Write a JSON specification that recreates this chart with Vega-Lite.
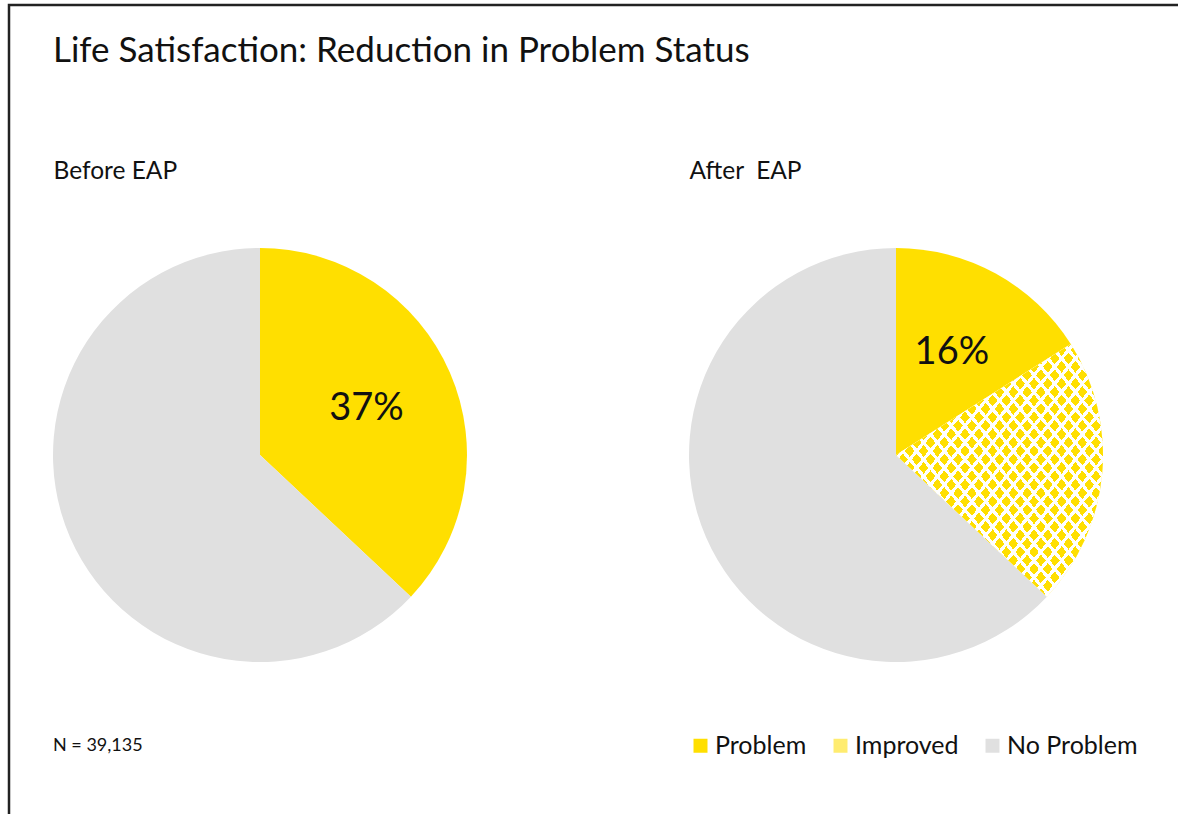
{
  "$schema": "https://vega.github.io/schema/vega-lite/v6.json",
  "width": 1169,
  "height": 809,
  "autosize": {"type": "none"},
  "padding": {"left": 9, "top": 5, "right": 0, "bottom": 0},
  "background": "white",
  "title": {
    "text": "Life Satisfaction: Reduction in Problem Status",
    "anchor": "start",
    "frame": "group",
    "dx": 44,
    "offset": -92,
    "baseline": "alphabetic",
    "fontSize": 35,
    "font": "Lato",
    "fontWeight": "normal",
    "color": "#111111"
  },
  "data": {
    "values": [
      {"panel": "Before EAP", "status": "Problem", "share": 0.37, "k": 1},
      {"panel": "Before EAP", "status": "No Problem", "share": 0.63, "k": 3},
      {"panel": "After\u00a0 EAP", "status": "Problem", "share": 0.16, "k": 1},
      {"panel": "After\u00a0 EAP", "status": "Improved", "share": 0.21, "k": 2},
      {"panel": "After\u00a0 EAP", "status": "No Problem", "share": 0.63, "k": 3}
    ]
  },
  "transform": [
    {"stack": "share", "groupby": ["panel"], "sort": [{"field": "k", "order": "ascending"}], "as": ["s0", "s1"]}
  ],
  "encoding": {
    "x": {
      "field": "panel",
      "type": "nominal",
      "scale": {"type": "point", "domain": ["Before EAP", "After\u00a0 EAP"], "range": [251, 887], "padding": 0},
      "axis": {
        "orient": "top",
        "offset": -178,
        "domain": false,
        "ticks": false,
        "grid": false,
        "title": null,
        "labelPadding": 0,
        "labelAlign": "left",
        "labelOffset": -207,
        "labelAngle": 0,
        "labelFontSize": 24.5,
        "labelFont": "Lato",
        "labelColor": "#111111",
        "labelOverlap": false,
        "labelBound": false
      }
    }
  },
  "layer": [
    {
      "mark": {"type": "arc", "outerRadius": 207, "yOffset": 45.5},
      "encoding": {
        "theta": {"field": "s0", "type": "quantitative", "scale": {"domain": [0, 1]}},
        "theta2": {"field": "s1"},
        "color": {
          "field": "status",
          "type": "nominal",
          "scale": {"domain": ["Problem", "Improved", "No Problem"], "range": ["#FFDF00", "#FFEC70", "#E0E0E0"]},
          "legend": {
            "orient": "none",
            "legendX": 44,
            "legendY": 728,
            "direction": "horizontal",
            "title": "N = 39,135",
            "titleOrient": "left",
            "titlePadding": 545,
            "titleFontSize": 18,
            "titleFontWeight": "normal",
            "titleFont": "Lato",
            "titleColor": "#111111",
            "symbolType": "square",
            "symbolSize": 196,
            "symbolStrokeWidth": 0,
            "labelFontSize": 25,
            "labelFont": "Lato",
            "labelColor": "#111111",
            "labelOffset": 2,
            "columnPadding": 21,
            "padding": 0
          }
        }
      }
    },
    {
      "transform": [{"filter": "datum.status === 'Improved'"}],
      "mark": {"type": "arc", "outerRadius": 207, "yOffset": 45.5, "fill": "#FFFFFF"},
      "encoding": {
        "theta": {"field": "s0", "type": "quantitative", "scale": {"domain": [0, 1]}},
        "theta2": {"field": "s1"}
      }
    },
    {
      "transform": [{"filter": "datum.status === 'Improved'"}],
      "mark": {
        "type": "arc",
        "outerRadius": 207,
        "yOffset": 45.5,
        "fill": {
          "gradient": "linear", "x1": 0, "y1": 0, "x2": 1, "y2": 1,
          "stops": [
            {"offset": 0, "color": "#FFDF00"}, {"offset": 0.0233, "color": "#FFDF00"}, {"offset": 0.0233, "color": "rgba(255,255,255,0)"}, {"offset": 0.0333, "color": "rgba(255,255,255,0)"},
            {"offset": 0.0333, "color": "#FFDF00"}, {"offset": 0.0567, "color": "#FFDF00"}, {"offset": 0.0567, "color": "rgba(255,255,255,0)"}, {"offset": 0.0667, "color": "rgba(255,255,255,0)"},
            {"offset": 0.0667, "color": "#FFDF00"}, {"offset": 0.09, "color": "#FFDF00"}, {"offset": 0.09, "color": "rgba(255,255,255,0)"}, {"offset": 0.1, "color": "rgba(255,255,255,0)"},
            {"offset": 0.1, "color": "#FFDF00"}, {"offset": 0.1233, "color": "#FFDF00"}, {"offset": 0.1233, "color": "rgba(255,255,255,0)"}, {"offset": 0.1333, "color": "rgba(255,255,255,0)"},
            {"offset": 0.1333, "color": "#FFDF00"}, {"offset": 0.1567, "color": "#FFDF00"}, {"offset": 0.1567, "color": "rgba(255,255,255,0)"}, {"offset": 0.1667, "color": "rgba(255,255,255,0)"},
            {"offset": 0.1667, "color": "#FFDF00"}, {"offset": 0.19, "color": "#FFDF00"}, {"offset": 0.19, "color": "rgba(255,255,255,0)"}, {"offset": 0.2, "color": "rgba(255,255,255,0)"},
            {"offset": 0.2, "color": "#FFDF00"}, {"offset": 0.2233, "color": "#FFDF00"}, {"offset": 0.2233, "color": "rgba(255,255,255,0)"}, {"offset": 0.2333, "color": "rgba(255,255,255,0)"},
            {"offset": 0.2333, "color": "#FFDF00"}, {"offset": 0.2567, "color": "#FFDF00"}, {"offset": 0.2567, "color": "rgba(255,255,255,0)"}, {"offset": 0.2667, "color": "rgba(255,255,255,0)"},
            {"offset": 0.2667, "color": "#FFDF00"}, {"offset": 0.29, "color": "#FFDF00"}, {"offset": 0.29, "color": "rgba(255,255,255,0)"}, {"offset": 0.3, "color": "rgba(255,255,255,0)"},
            {"offset": 0.3, "color": "#FFDF00"}, {"offset": 0.3233, "color": "#FFDF00"}, {"offset": 0.3233, "color": "rgba(255,255,255,0)"}, {"offset": 0.3333, "color": "rgba(255,255,255,0)"},
            {"offset": 0.3333, "color": "#FFDF00"}, {"offset": 0.3567, "color": "#FFDF00"}, {"offset": 0.3567, "color": "rgba(255,255,255,0)"}, {"offset": 0.3667, "color": "rgba(255,255,255,0)"},
            {"offset": 0.3667, "color": "#FFDF00"}, {"offset": 0.39, "color": "#FFDF00"}, {"offset": 0.39, "color": "rgba(255,255,255,0)"}, {"offset": 0.4, "color": "rgba(255,255,255,0)"},
            {"offset": 0.4, "color": "#FFDF00"}, {"offset": 0.4233, "color": "#FFDF00"}, {"offset": 0.4233, "color": "rgba(255,255,255,0)"}, {"offset": 0.4333, "color": "rgba(255,255,255,0)"},
            {"offset": 0.4333, "color": "#FFDF00"}, {"offset": 0.4567, "color": "#FFDF00"}, {"offset": 0.4567, "color": "rgba(255,255,255,0)"}, {"offset": 0.4667, "color": "rgba(255,255,255,0)"},
            {"offset": 0.4667, "color": "#FFDF00"}, {"offset": 0.49, "color": "#FFDF00"}, {"offset": 0.49, "color": "rgba(255,255,255,0)"}, {"offset": 0.5, "color": "rgba(255,255,255,0)"},
            {"offset": 0.5, "color": "#FFDF00"}, {"offset": 0.5233, "color": "#FFDF00"}, {"offset": 0.5233, "color": "rgba(255,255,255,0)"}, {"offset": 0.5333, "color": "rgba(255,255,255,0)"},
            {"offset": 0.5333, "color": "#FFDF00"}, {"offset": 0.5567, "color": "#FFDF00"}, {"offset": 0.5567, "color": "rgba(255,255,255,0)"}, {"offset": 0.5667, "color": "rgba(255,255,255,0)"},
            {"offset": 0.5667, "color": "#FFDF00"}, {"offset": 0.59, "color": "#FFDF00"}, {"offset": 0.59, "color": "rgba(255,255,255,0)"}, {"offset": 0.6, "color": "rgba(255,255,255,0)"},
            {"offset": 0.6, "color": "#FFDF00"}, {"offset": 0.6233, "color": "#FFDF00"}, {"offset": 0.6233, "color": "rgba(255,255,255,0)"}, {"offset": 0.6333, "color": "rgba(255,255,255,0)"},
            {"offset": 0.6333, "color": "#FFDF00"}, {"offset": 0.6567, "color": "#FFDF00"}, {"offset": 0.6567, "color": "rgba(255,255,255,0)"}, {"offset": 0.6667, "color": "rgba(255,255,255,0)"},
            {"offset": 0.6667, "color": "#FFDF00"}, {"offset": 0.69, "color": "#FFDF00"}, {"offset": 0.69, "color": "rgba(255,255,255,0)"}, {"offset": 0.7, "color": "rgba(255,255,255,0)"},
            {"offset": 0.7, "color": "#FFDF00"}, {"offset": 0.7233, "color": "#FFDF00"}, {"offset": 0.7233, "color": "rgba(255,255,255,0)"}, {"offset": 0.7333, "color": "rgba(255,255,255,0)"},
            {"offset": 0.7333, "color": "#FFDF00"}, {"offset": 0.7567, "color": "#FFDF00"}, {"offset": 0.7567, "color": "rgba(255,255,255,0)"}, {"offset": 0.7667, "color": "rgba(255,255,255,0)"},
            {"offset": 0.7667, "color": "#FFDF00"}, {"offset": 0.79, "color": "#FFDF00"}, {"offset": 0.79, "color": "rgba(255,255,255,0)"}, {"offset": 0.8, "color": "rgba(255,255,255,0)"},
            {"offset": 0.8, "color": "#FFDF00"}, {"offset": 0.8233, "color": "#FFDF00"}, {"offset": 0.8233, "color": "rgba(255,255,255,0)"}, {"offset": 0.8333, "color": "rgba(255,255,255,0)"},
            {"offset": 0.8333, "color": "#FFDF00"}, {"offset": 0.8567, "color": "#FFDF00"}, {"offset": 0.8567, "color": "rgba(255,255,255,0)"}, {"offset": 0.8667, "color": "rgba(255,255,255,0)"},
            {"offset": 0.8667, "color": "#FFDF00"}, {"offset": 0.89, "color": "#FFDF00"}, {"offset": 0.89, "color": "rgba(255,255,255,0)"}, {"offset": 0.9, "color": "rgba(255,255,255,0)"},
            {"offset": 0.9, "color": "#FFDF00"}, {"offset": 0.9233, "color": "#FFDF00"}, {"offset": 0.9233, "color": "rgba(255,255,255,0)"}, {"offset": 0.9333, "color": "rgba(255,255,255,0)"},
            {"offset": 0.9333, "color": "#FFDF00"}, {"offset": 0.9567, "color": "#FFDF00"}, {"offset": 0.9567, "color": "rgba(255,255,255,0)"}, {"offset": 0.9667, "color": "rgba(255,255,255,0)"},
            {"offset": 0.9667, "color": "#FFDF00"}, {"offset": 0.99, "color": "#FFDF00"}, {"offset": 0.99, "color": "rgba(255,255,255,0)"}, {"offset": 1, "color": "rgba(255,255,255,0)"}
          ]
        }
      },
      "encoding": {
        "theta": {"field": "s0", "type": "quantitative", "scale": {"domain": [0, 1]}},
        "theta2": {"field": "s1"}
      }
    },
    {
      "transform": [{"filter": "datum.status === 'Improved'"}],
      "mark": {
        "type": "arc",
        "outerRadius": 207,
        "yOffset": 45.5,
        "fill": {
          "gradient": "linear", "x1": 1, "y1": 0, "x2": 0, "y2": 1,
          "stops": [
            {"offset": 0, "color": "rgba(255,255,255,0)"}, {"offset": 0.0233, "color": "rgba(255,255,255,0)"}, {"offset": 0.0233, "color": "#FFFFFF"}, {"offset": 0.0333, "color": "#FFFFFF"},
            {"offset": 0.0333, "color": "rgba(255,255,255,0)"}, {"offset": 0.0567, "color": "rgba(255,255,255,0)"}, {"offset": 0.0567, "color": "#FFFFFF"}, {"offset": 0.0667, "color": "#FFFFFF"},
            {"offset": 0.0667, "color": "rgba(255,255,255,0)"}, {"offset": 0.09, "color": "rgba(255,255,255,0)"}, {"offset": 0.09, "color": "#FFFFFF"}, {"offset": 0.1, "color": "#FFFFFF"},
            {"offset": 0.1, "color": "rgba(255,255,255,0)"}, {"offset": 0.1233, "color": "rgba(255,255,255,0)"}, {"offset": 0.1233, "color": "#FFFFFF"}, {"offset": 0.1333, "color": "#FFFFFF"},
            {"offset": 0.1333, "color": "rgba(255,255,255,0)"}, {"offset": 0.1567, "color": "rgba(255,255,255,0)"}, {"offset": 0.1567, "color": "#FFFFFF"}, {"offset": 0.1667, "color": "#FFFFFF"},
            {"offset": 0.1667, "color": "rgba(255,255,255,0)"}, {"offset": 0.19, "color": "rgba(255,255,255,0)"}, {"offset": 0.19, "color": "#FFFFFF"}, {"offset": 0.2, "color": "#FFFFFF"},
            {"offset": 0.2, "color": "rgba(255,255,255,0)"}, {"offset": 0.2233, "color": "rgba(255,255,255,0)"}, {"offset": 0.2233, "color": "#FFFFFF"}, {"offset": 0.2333, "color": "#FFFFFF"},
            {"offset": 0.2333, "color": "rgba(255,255,255,0)"}, {"offset": 0.2567, "color": "rgba(255,255,255,0)"}, {"offset": 0.2567, "color": "#FFFFFF"}, {"offset": 0.2667, "color": "#FFFFFF"},
            {"offset": 0.2667, "color": "rgba(255,255,255,0)"}, {"offset": 0.29, "color": "rgba(255,255,255,0)"}, {"offset": 0.29, "color": "#FFFFFF"}, {"offset": 0.3, "color": "#FFFFFF"},
            {"offset": 0.3, "color": "rgba(255,255,255,0)"}, {"offset": 0.3233, "color": "rgba(255,255,255,0)"}, {"offset": 0.3233, "color": "#FFFFFF"}, {"offset": 0.3333, "color": "#FFFFFF"},
            {"offset": 0.3333, "color": "rgba(255,255,255,0)"}, {"offset": 0.3567, "color": "rgba(255,255,255,0)"}, {"offset": 0.3567, "color": "#FFFFFF"}, {"offset": 0.3667, "color": "#FFFFFF"},
            {"offset": 0.3667, "color": "rgba(255,255,255,0)"}, {"offset": 0.39, "color": "rgba(255,255,255,0)"}, {"offset": 0.39, "color": "#FFFFFF"}, {"offset": 0.4, "color": "#FFFFFF"},
            {"offset": 0.4, "color": "rgba(255,255,255,0)"}, {"offset": 0.4233, "color": "rgba(255,255,255,0)"}, {"offset": 0.4233, "color": "#FFFFFF"}, {"offset": 0.4333, "color": "#FFFFFF"},
            {"offset": 0.4333, "color": "rgba(255,255,255,0)"}, {"offset": 0.4567, "color": "rgba(255,255,255,0)"}, {"offset": 0.4567, "color": "#FFFFFF"}, {"offset": 0.4667, "color": "#FFFFFF"},
            {"offset": 0.4667, "color": "rgba(255,255,255,0)"}, {"offset": 0.49, "color": "rgba(255,255,255,0)"}, {"offset": 0.49, "color": "#FFFFFF"}, {"offset": 0.5, "color": "#FFFFFF"},
            {"offset": 0.5, "color": "rgba(255,255,255,0)"}, {"offset": 0.5233, "color": "rgba(255,255,255,0)"}, {"offset": 0.5233, "color": "#FFFFFF"}, {"offset": 0.5333, "color": "#FFFFFF"},
            {"offset": 0.5333, "color": "rgba(255,255,255,0)"}, {"offset": 0.5567, "color": "rgba(255,255,255,0)"}, {"offset": 0.5567, "color": "#FFFFFF"}, {"offset": 0.5667, "color": "#FFFFFF"},
            {"offset": 0.5667, "color": "rgba(255,255,255,0)"}, {"offset": 0.59, "color": "rgba(255,255,255,0)"}, {"offset": 0.59, "color": "#FFFFFF"}, {"offset": 0.6, "color": "#FFFFFF"},
            {"offset": 0.6, "color": "rgba(255,255,255,0)"}, {"offset": 0.6233, "color": "rgba(255,255,255,0)"}, {"offset": 0.6233, "color": "#FFFFFF"}, {"offset": 0.6333, "color": "#FFFFFF"},
            {"offset": 0.6333, "color": "rgba(255,255,255,0)"}, {"offset": 0.6567, "color": "rgba(255,255,255,0)"}, {"offset": 0.6567, "color": "#FFFFFF"}, {"offset": 0.6667, "color": "#FFFFFF"},
            {"offset": 0.6667, "color": "rgba(255,255,255,0)"}, {"offset": 0.69, "color": "rgba(255,255,255,0)"}, {"offset": 0.69, "color": "#FFFFFF"}, {"offset": 0.7, "color": "#FFFFFF"},
            {"offset": 0.7, "color": "rgba(255,255,255,0)"}, {"offset": 0.7233, "color": "rgba(255,255,255,0)"}, {"offset": 0.7233, "color": "#FFFFFF"}, {"offset": 0.7333, "color": "#FFFFFF"},
            {"offset": 0.7333, "color": "rgba(255,255,255,0)"}, {"offset": 0.7567, "color": "rgba(255,255,255,0)"}, {"offset": 0.7567, "color": "#FFFFFF"}, {"offset": 0.7667, "color": "#FFFFFF"},
            {"offset": 0.7667, "color": "rgba(255,255,255,0)"}, {"offset": 0.79, "color": "rgba(255,255,255,0)"}, {"offset": 0.79, "color": "#FFFFFF"}, {"offset": 0.8, "color": "#FFFFFF"},
            {"offset": 0.8, "color": "rgba(255,255,255,0)"}, {"offset": 0.8233, "color": "rgba(255,255,255,0)"}, {"offset": 0.8233, "color": "#FFFFFF"}, {"offset": 0.8333, "color": "#FFFFFF"},
            {"offset": 0.8333, "color": "rgba(255,255,255,0)"}, {"offset": 0.8567, "color": "rgba(255,255,255,0)"}, {"offset": 0.8567, "color": "#FFFFFF"}, {"offset": 0.8667, "color": "#FFFFFF"},
            {"offset": 0.8667, "color": "rgba(255,255,255,0)"}, {"offset": 0.89, "color": "rgba(255,255,255,0)"}, {"offset": 0.89, "color": "#FFFFFF"}, {"offset": 0.9, "color": "#FFFFFF"},
            {"offset": 0.9, "color": "rgba(255,255,255,0)"}, {"offset": 0.9233, "color": "rgba(255,255,255,0)"}, {"offset": 0.9233, "color": "#FFFFFF"}, {"offset": 0.9333, "color": "#FFFFFF"},
            {"offset": 0.9333, "color": "rgba(255,255,255,0)"}, {"offset": 0.9567, "color": "rgba(255,255,255,0)"}, {"offset": 0.9567, "color": "#FFFFFF"}, {"offset": 0.9667, "color": "#FFFFFF"},
            {"offset": 0.9667, "color": "rgba(255,255,255,0)"}, {"offset": 0.99, "color": "rgba(255,255,255,0)"}, {"offset": 0.99, "color": "#FFFFFF"}, {"offset": 1, "color": "#FFFFFF"}
          ]
        }
      },
      "encoding": {
        "theta": {"field": "s0", "type": "quantitative", "scale": {"domain": [0, 1]}},
        "theta2": {"field": "s1"}
      }
    },
    {
      "transform": [{"filter": "datum.status === 'Problem'"}],
      "mark": {"type": "text", "radius": 116, "yOffset": 45.5, "fontSize": 38, "font": "Lato", "color": "#111111", "baseline": "middle", "align": "center"},
      "encoding": {
        "theta": {"field": "share", "type": "quantitative", "stack": null, "scale": {"domain": [0, 2]}},
        "text": {"field": "share", "type": "quantitative", "format": ".0%"}
      }
    }
  ],
  "resolve": {"scale": {"theta": "independent"}},
  "config": {
    "view": {"stroke": "#222222", "strokeWidth": 2.5, "strokeDash": [1169, 1978, 809, 100]},
    "font": "Lato"
  }
}
